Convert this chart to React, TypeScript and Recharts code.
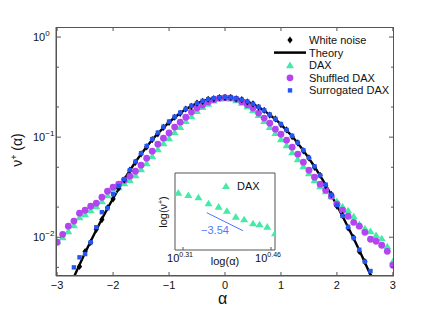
import React from 'react';
import {
    ComposedChart, Scatter, Line, XAxis, YAxis, Legend, ReferenceArea
} from 'recharts';

// alpha grid used by every series (step 0.1)
const alphaFull = [-3, -2.9, -2.8, -2.7, -2.6, -2.5, -2.4, -2.3, -2.2, -2.1, -2, -1.9, -1.8, -1.7, -1.6, -1.5, -1.4, -1.3, -1.2, -1.1, -1, -0.9, -0.8, -0.7, -0.6, -0.5, -0.4, -0.3, -0.2, -0.1, 0, 0.1, 0.2, 0.3, 0.4, 0.5, 0.6, 0.7, 0.8, 0.9, 1, 1.1, 1.2, 1.3, 1.4, 1.5, 1.6, 1.7, 1.8, 1.9, 2, 2.1, 2.2, 2.3, 2.4, 2.5, 2.6, 2.7, 2.8, 2.9, 3];

// theory curve, alpha -2.7 .. 2.7
const theoryVals = [0.0040, 0.0053, 0.0070, 0.0091, 0.0118, 0.0152, 0.0194, 0.0244, 0.0305, 0.0378, 0.0465, 0.0564, 0.0676, 0.0802, 0.0940, 0.109, 0.124, 0.141, 0.157, 0.174, 0.190, 0.204, 0.218, 0.229, 0.238, 0.244, 0.248, 0.250, 0.248, 0.243, 0.236, 0.226, 0.214, 0.200, 0.184, 0.167, 0.151, 0.134, 0.117, 0.102, 0.0871, 0.0736, 0.0614, 0.0506, 0.0412, 0.0332, 0.0264, 0.0208, 0.0162, 0.0126, 0.0097, 0.0074, 0.0056, 0.0042, 0.0032];

// white noise, alpha -2.6 .. 2.6
const whiteNoiseVals = [0.0051, 0.0072, 0.0089, 0.0120, 0.0150, 0.0197, 0.0241, 0.0309, 0.0375, 0.0468, 0.0560, 0.0680, 0.0798, 0.0945, 0.108, 0.125, 0.140, 0.158, 0.173, 0.191, 0.203, 0.219, 0.228, 0.239, 0.243, 0.249, 0.249, 0.249, 0.242, 0.237, 0.225, 0.215, 0.199, 0.185, 0.166, 0.152, 0.133, 0.118, 0.101, 0.0878, 0.0730, 0.0620, 0.0500, 0.0416, 0.0328, 0.0268, 0.0205, 0.0165, 0.0124, 0.0099, 0.0072, 0.0057, 0.0041];

// DAX, alpha -3 .. 3
const daxVals = [0.00912, 0.0100, 0.0115, 0.0132, 0.0158, 0.0170, 0.0186, 0.0204, 0.0229, 0.0263, 0.0295, 0.0316, 0.0347, 0.0372, 0.0417, 0.0479, 0.0550, 0.0646, 0.0759, 0.0871, 0.0977, 0.112, 0.126, 0.145, 0.162, 0.182, 0.200, 0.216, 0.232, 0.243, 0.245, 0.243, 0.234, 0.221, 0.204, 0.186, 0.166, 0.145, 0.126, 0.110, 0.0955, 0.0832, 0.0708, 0.0603, 0.0513, 0.0437, 0.0372, 0.0324, 0.0288, 0.0257, 0.0229, 0.0204, 0.0186, 0.0162, 0.0135, 0.0123, 0.0115, 0.0105, 0.00977, 0.00813, 0.00575];

// shuffled DAX, alpha -3 .. 3
const shuffledVals = [0.00891, 0.0107, 0.0129, 0.0145, 0.0174, 0.0186, 0.0204, 0.0219, 0.0251, 0.0288, 0.0316, 0.0339, 0.0372, 0.0407, 0.0457, 0.0525, 0.0617, 0.0724, 0.0851, 0.0977, 0.110, 0.126, 0.141, 0.158, 0.178, 0.195, 0.209, 0.224, 0.237, 0.245, 0.248, 0.247, 0.240, 0.226, 0.211, 0.195, 0.174, 0.155, 0.138, 0.120, 0.107, 0.0933, 0.0794, 0.0676, 0.0562, 0.0468, 0.0398, 0.0339, 0.0295, 0.0257, 0.0214, 0.0186, 0.0162, 0.0141, 0.0129, 0.0112, 0.00955, 0.00912, 0.00832, 0.00724, 0.00525];

// surrogated DAX, alpha -2.7 .. 2.6
const surrogatedVals = [0.0050, 0.0063, 0.0068, 0.0089, 0.0126, 0.0178, 0.0195, 0.0269, 0.0324, 0.0380, 0.0468, 0.0570, 0.0690, 0.0815, 0.0955, 0.111, 0.127, 0.143, 0.160, 0.176, 0.192, 0.206, 0.219, 0.230, 0.239, 0.245, 0.249, 0.251, 0.249, 0.244, 0.237, 0.227, 0.215, 0.201, 0.185, 0.168, 0.152, 0.135, 0.118, 0.103, 0.0880, 0.0740, 0.0620, 0.0510, 0.0415, 0.0335, 0.0266, 0.0210, 0.0163, 0.0127, 0.0098, 0.0075, 0.0057, 0.0046];

// inset: log(alpha) vs log(nu+) for DAX tail, and fitted slope
const insetLogAlpha = [0.302, 0.319, 0.336, 0.353, 0.370, 0.384, 0.399, 0.413, 0.428, 0.439, 0.452, 0.465];
const insetLogNu = [-1.581, -1.614, -1.647, -1.733, -1.781, -1.839, -1.924, -1.961, -2.019, -2.033, -2.067, -2.161];
const fitLogAlpha = [0.350, 0.411];
const fitLogNu = [-1.867, -2.124];

const xTicks = [-3, -2, -1, 0, 1, 2, 3];
const yMajor = [0.01, 0.1, 1];
const yTicks = [0.005, 0.006, 0.007, 0.008, 0.009, 0.01, 0.02, 0.03, 0.04, 0.05, 0.06, 0.07, 0.08, 0.09, 0.1, 0.2, 0.3, 0.4, 0.5, 0.6, 0.7, 0.8, 0.9, 1];
const yTickLabels: Record<string, string> = { '0.01': '−2', '0.1': '−1', '1': '0' };

const X_DOMAIN = [-3.02, 3.02];
const Y_DOMAIN = [0.0041, 1.26];
const INSET_X = [0.2965, 0.465];
const INSET_Y = [-2.4, -1.3];

// plot box (from the chart margins), used for the frame and mirrored ticks
const PLOT_LEFT = 56;
const PLOT_TOP = 27;
const PLOT_W = 338;
const PLOT_H = 249;

const GREEN = '#44eaa6';
const PURPLE = '#b444f0';
const BLUE = '#2455f5';
const FRAME = '#555';
const FONT = '"Liberation Sans", Arial, sans-serif';

const pick = (from: number, to: number, vals: number[]) => {
    const xs = alphaFull.filter(a => a >= from - 1e-9 && a <= to + 1e-9);
    return xs.map((x, i) => ({ x, y: vals[i] }));
};

const theory = pick(-2.7, 2.7, theoryVals);
const whiteNoise = pick(-2.6, 2.6, whiteNoiseVals);
const dax = pick(-3, 3, daxVals);
const shuffled = pick(-3, 3, shuffledVals);
const surrogated = pick(-2.7, 2.6, surrogatedVals);
const insetData = insetLogAlpha.map((x, i) => ({ x, y: insetLogNu[i] }));
const fitData = fitLogAlpha.map((x, i) => ({ x, y: fitLogNu[i] }));

const Diamond = ({ cx, cy }: any) => (
    <path d={`M${cx},${cy - 3.6}L${cx + 2.6},${cy}L${cx},${cy + 3.6}L${cx - 2.6},${cy}Z`} fill="#000" />
);
const Tri = ({ cx, cy }: any) => (
    <path d={`M${cx},${cy - 3.6}L${cx + 4},${cy + 3}L${cx - 4},${cy + 3}Z`} fill={GREEN} />
);
const Dot = ({ cx, cy }: any) => <circle cx={cx} cy={cy} r={3.4} fill={PURPLE} />;
const Sq = ({ cx, cy }: any) => <rect x={cx - 2.2} y={cy - 2.2} width={4.4} height={4.4} fill={BLUE} />;

const BottomTick = ({ x, y, payload }: any) => (
    <g>
        <line x1={x} y1={y} x2={x} y2={y - 4} stroke={FRAME} />
        <line x1={x} y1={y - PLOT_H} x2={x} y2={y - PLOT_H + 4} stroke={FRAME} />
        <text x={x} y={y + 13} textAnchor="middle" fontSize={11} fontFamily={FONT} fill="#111">
            {payload.value < 0 ? `−${-payload.value}` : payload.value}
        </text>
    </g>
);

const LeftTick = ({ x, y, payload }: any) => {
    const major = yMajor.some(v => Math.abs(v - payload.value) < 1e-9);
    const len = major ? 5 : 3;
    const exp = yTickLabels[String(payload.value)];
    return (
        <g>
            <line x1={x} y1={y} x2={x + len} y2={y} stroke={FRAME} />
            <line x1={x + PLOT_W} y1={y} x2={x + PLOT_W - len} y2={y} stroke={FRAME} />
            {exp && (
                <text x={33} y={y + 4} fontSize={11} fontFamily={FONT} fill="#111">
                    10<tspan dy={-5} fontSize={8}>{exp}</tspan>
                </text>
            )}
        </g>
    );
};

const legendItems = [
    { name: 'White noise', kind: 'diamond' },
    { name: 'Theory', kind: 'line' },
    { name: 'DAX', kind: 'tri' },
    { name: 'Shuffled DAX', kind: 'dot' },
    { name: 'Surrogated DAX', kind: 'sq' },
];

const renderLegend = () => (
    <svg width={140} height={66} style={{ display: 'block' }}>
        {legendItems.map((it, i) => {
            const cy = 7 + i * 12.6;
            return (
                <g key={it.name}>
                    {it.kind === 'diamond' && <Diamond cx={20} cy={cy} />}
                    {it.kind === 'line' && <line x1={4} x2={36} y1={cy} y2={cy} stroke="#000" strokeWidth={2.5} />}
                    {it.kind === 'tri' && <Tri cx={20} cy={cy} />}
                    {it.kind === 'dot' && <Dot cx={20} cy={cy} />}
                    {it.kind === 'sq' && <Sq cx={20} cy={cy} />}
                    <text x={39} y={cy + 4} fontSize={11} fontFamily={FONT} fill="#111">{it.name}</text>
                </g>
            );
        })}
    </svg>
);

const InsetTick = ({ x, y, payload }: any) => (
    <g>
        <line x1={x} y1={y} x2={x} y2={y - 3} stroke={FRAME} />
        <text x={x - 3} y={y + 12} textAnchor="middle" fontSize={11} fontFamily={FONT} fill="#111">
            10<tspan dy={-5} fontSize={7}>{payload.value.toFixed(2)}</tspan>
        </text>
    </g>
);

function Inset() {
    return (
        <div style={{ position: 'absolute', left: 155, top: 168 }}>
            <ComposedChart width={130} height={100} margin={{ top: 5, right: 10, bottom: 0, left: 20 }}>
                <XAxis xAxisId="b" dataKey="x" type="number" domain={INSET_X} allowDataOverflow
                    ticks={[0.31, 0.46]} tick={<InsetTick />} tickLine={false} tickSize={0} tickMargin={0}
                    height={18} axisLine={false} />
                <YAxis yAxisId="l" dataKey="y" type="number" domain={INSET_Y} allowDataOverflow tick={false}
                    tickLine={false} axisLine={false} width={0} />
                <ReferenceArea xAxisId="b" yAxisId="l" x1={INSET_X[0]} x2={INSET_X[1]} y1={INSET_Y[0]} y2={INSET_Y[1]}
                    fill="#fff" fillOpacity={1} stroke={FRAME} strokeWidth={1} ifOverflow="visible" />
                <Line data={fitData} xAxisId="b" yAxisId="l" dataKey="y" stroke="#4f78ff" strokeWidth={1}
                    dot={false} isAnimationActive={false} />
                <Scatter data={insetData} xAxisId="b" yAxisId="l" shape={<Tri />} isAnimationActive={false} />
            </ComposedChart>
            <svg width={140} height={110} style={{ position: 'absolute', left: -10, top: 0, pointerEvents: 'none' }}>
                <Tri cx={81} cy={18} />
                <text x={92} y={22} fontSize={11} fontFamily={FONT} fill="#111">DAX</text>
                <text x={70} y={66} textAnchor="middle" fontSize={11} fontFamily={FONT} fill="#4f78ff">−3.54</text>
                <text x={80} y={97} textAnchor="middle" fontSize={11} fontFamily={FONT} fill="#111">log(α)</text>
                <text transform="translate(22,44) rotate(-90)" textAnchor="middle" fontSize={11} fontFamily={FONT} fill="#111">
                    log(ν<tspan dy={-4} fontSize={7}>+</tspan><tspan dy={4}>)</tspan>
                </text>
            </svg>
        </div>
    );
}

export default function App() {
    return (
        <div style={{ position: 'absolute', left: 0, top: 0, width: 437, height: 312, background: '#fff' }}>
            <ComposedChart width={437} height={312} margin={{ top: 27, right: 43, bottom: 6, left: 6 }}>
                <XAxis xAxisId="b" dataKey="x" type="number" domain={X_DOMAIN} allowDataOverflow
                    ticks={xTicks} tick={<BottomTick />} tickLine={false} tickSize={0} tickMargin={0}
                    height={30} stroke={FRAME} />
                <YAxis yAxisId="l" dataKey="y" type="number" scale="log" domain={Y_DOMAIN} allowDataOverflow
                    ticks={yTicks} tick={<LeftTick />} tickLine={false} tickSize={0} tickMargin={0}
                    width={50} stroke={FRAME} />
                <Legend layout="vertical" align="center" verticalAlign="middle" content={renderLegend}
                    wrapperStyle={{ top: 33, left: 270, width: 140 }} />
                <Scatter name="DAX" data={dax} xAxisId="b" yAxisId="l" shape={<Tri />} isAnimationActive={false} />
                <Scatter name="Shuffled DAX" data={shuffled} xAxisId="b" yAxisId="l" shape={<Dot />} isAnimationActive={false} />
                <Scatter name="White noise" data={whiteNoise} xAxisId="b" yAxisId="l" shape={<Diamond />} isAnimationActive={false} />
                <Line name="Theory" data={theory} xAxisId="b" yAxisId="l" dataKey="y" stroke="#000" strokeWidth={2.4}
                    dot={false} isAnimationActive={false} />
                <Scatter name="Surrogated DAX" data={surrogated} xAxisId="b" yAxisId="l" shape={<Sq />} isAnimationActive={false} />
            </ComposedChart>
            {/* plot frame */}
            <div style={{
                position: 'absolute', left: PLOT_LEFT, top: PLOT_TOP, width: PLOT_W, height: PLOT_H,
                boxSizing: 'border-box', border: `1px solid ${FRAME}`, pointerEvents: 'none'
            }} />
            <Inset />
            <div style={{ position: 'absolute', left: 218, top: 290, fontFamily: FONT, fontSize: 16, color: '#111' }}>α</div>
            <div style={{
                position: 'absolute', left: 17, top: 150, transform: 'translate(-50%, -50%) rotate(-90deg)',
                fontFamily: FONT, fontSize: 14, color: '#111', whiteSpace: 'nowrap'
            }}>
                ν<sup style={{ fontSize: 9 }}>+</sup> (α)
            </div>
        </div>
    );
}
